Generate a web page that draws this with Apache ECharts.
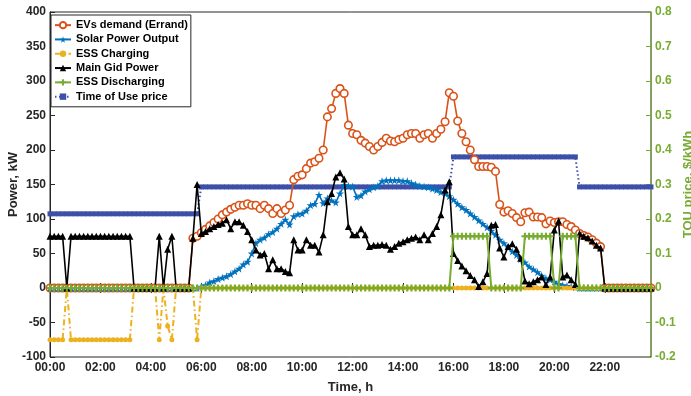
<!DOCTYPE html>
<html>
<head>
<meta charset="utf-8">
<script src="https://cdn.jsdelivr.net/npm/echarts@6/dist/echarts.min.js"></script>
<style>
html, body { margin: 0; padding: 0; background: #fff; }
#chart { width: 691px; height: 396px; }
</style>
</head>
<body>
<div id="chart"></div>
<script>
// 10-minute steps over one day
const times = [];
for (let i = 0; i < 144; i++) {
    const h = Math.floor(i / 6), m = (i % 6) * 10;
    times.push(String(h).padStart(2, '0') + ':' + String(m).padStart(2, '0'));
}

const evDemand = [
    0,0,0,0,0,0,0,0,0,0, 0,0,0,0,0,0,0,0,0,0, 0,0,0,0,0,0,0,0,0,0,
    0,0,0,0,72,75,80,85,90,95,
    100,106,110,114,117,120,120,122,120,120,
    115,120,115,108,115,108,113,120,157,162,
    164,173,181,183,188,200,248,260,282,289,
    282,236,224,222,214,210,205,200,205,211,
    217,213,212,215,217,222,224,224,217,222,
    224,217,224,230,241,283,278,242,224,212,
    200,186,176,176,176,175,169,121,110,112,
    108,102,96,109,110,103,103,102,93,97,
    95,96,96,92,89,84,79,76,74,70,
    65,60,0,0,0,0,0,0,0,0, 0,0,0,0
];

const solar = [
    0,0,0,0,0,0,0,0,0,0, 0,0,0,0,0,0,0,0,0,0, 0,0,0,0,0,0,0,0,0,0,
    0,0,0,0,0,0,2,4,8,10,
    13,15,17,20,24,28,34,38,50,65,
    70,73,78,81,86,93,99,92,104,107,
    108,112,120,122,135,123,130,127,124,137,
    149,148,147,132,134,140,143,146,148,155,
    156,156,156,156,155,155,152,150,148,147,
    146,144,142,139,137,133,128,122,117,113,
    108,103,98,93,88,83,77,70,65,59,
    53,48,42,37,31,27,23,18,14,12,
    9,6,4,3,2,1,0,0,0,0,
    0,0,0,0,0,0,0,0,0,0, 0,0,0,0
];

const essCharging = [
    -75,-75,-75,-75,0,-75,-75,-75,-75,-75,
    -75,-75,-75,-75,-75,-75,-75,-75,-75,-75,
    0,0,0,0,0,0,-75,0,-55,-75,
    0,0,0,0,0,-75,0,0,0,0,
    0,0,0,0,0,0,0,0,0,0, 0,0,0,0,0,0,0,0,0,0,
    0,0,0,0,0,0,0,0,0,0, 0,0,0,0,0,0,0,0,0,0,
    0,0,0,0,0,0,0,0,0,0, 0,0,0,0,0,0,0,0,0,0,
    0,0,0,0,0,0,0,0,0,0, 0,0,0,0,0,0,0,0,0,0,
    0,0,0,0,0,0,0,0,0,0, 0,0,0,0,0,0,0,0,0,0,
    0,0,0,0
];

const mainGrid = [
    75,75,75,75,0,75,75,75,75,75,
    75,75,75,75,75,75,75,75,75,75,
    0,0,0,0,0,0,75,0,56,75,
    0,0,0,0,72,150,79,82,86,89,
    92,94,99,86,96,96,91,82,70,55,
    48,50,28,41,28,28,24,22,70,55,
    55,70,62,62,52,77,125,137,161,167,
    158,89,77,77,86,77,60,62,62,63,
    62,56,60,65,67,70,72,74,70,77,
    70,79,89,106,142,154,50,40,32,25,
    18,12,2,9,21,91,92,58,45,60,
    64,56,43,10,6,9,12,16,5,16,
    84,97,16,19,12,5,79,75,73,68,
    62,58,0,0,0,0,0,0,0,0, 0,0,0,0
];

const essDischarging = [
    0,0,0,0,0,0,0,0,0,0, 0,0,0,0,0,0,0,0,0,0, 0,0,0,0,0,0,0,0,0,0,
    0,0,0,0,0,0,0,0,0,0, 0,0,0,0,0,0,0,0,0,0, 0,0,0,0,0,0,0,0,0,0,
    0,0,0,0,0,0,0,0,0,0, 0,0,0,0,0,0,0,0,0,0, 0,0,0,0,0,0,0,0,0,0,
    0,0,0,0,0,0,75,75,75,75,
    75,75,75,75,75,0,0,0,0,0,
    0,0,0,75,75,75,75,75,75,75,
    0,0,75,75,75,75,0,0,0,0,
    0,0,0,0,0,0,0,0,0,0, 0,0,0,0
];

const touPrice = [
    0.215,0.215,0.215,0.215,0.215,0.215,0.215,0.215,0.215,0.215,
    0.215,0.215,0.215,0.215,0.215,0.215,0.215,0.215,0.215,0.215,
    0.215,0.215,0.215,0.215,0.215,0.215,0.215,0.215,0.215,0.215,
    0.215,0.215,0.215,0.215,0.215,0.215,0.293,0.293,0.293,0.293,
    0.293,0.293,0.293,0.293,0.293,0.293,0.293,0.293,0.293,0.293,
    0.293,0.293,0.293,0.293,0.293,0.293,0.293,0.293,0.293,0.293,
    0.293,0.293,0.293,0.293,0.293,0.293,0.293,0.293,0.293,0.293,
    0.293,0.293,0.293,0.293,0.293,0.293,0.293,0.293,0.293,0.293,
    0.293,0.293,0.293,0.293,0.293,0.293,0.293,0.293,0.293,0.293,
    0.293,0.293,0.293,0.293,0.293,0.293,0.38,0.38,0.38,0.38,
    0.38,0.38,0.38,0.38,0.38,0.38,0.38,0.38,0.38,0.38,
    0.38,0.38,0.38,0.38,0.38,0.38,0.38,0.38,0.38,0.38,
    0.38,0.38,0.38,0.38,0.38,0.38,0.293,0.293,0.293,0.293,
    0.293,0.293,0.293,0.293,0.293,0.293,0.293,0.293,0.293,0.293,
    0.293,0.293,0.293,0.293
];

const FONT = '"Liberation Sans", Arial, sans-serif';
const AX = '#262626';
const GREEN = '#77AC30';
const STAR = 'path://M50,0L61,35L98,35L68,57L79,91L50,70L21,91L32,57L2,35L39,35Z';
const PLUS = 'path://M3.5,0L6.5,0L6.5,3.5L10,3.5L10,6.5L6.5,6.5L6.5,10L3.5,10L3.5,6.5L0,6.5L0,3.5L3.5,3.5Z';

const chart = echarts.init(document.getElementById('chart'));

const base = {
    type: 'line',
    showAllSymbol: true,
    emphasis: { disabled: true },
    lineStyle: { width: 1.5 }
};

chart.setOption({
    animation: false,
    textStyle: { fontFamily: FONT },
    grid: {
        left: 50, right: 40, top: 12, bottom: 39,
        outerBoundsMode: 'none', containLabel: false,
        show: true, borderColor: AX, borderWidth: 1
    },
    legend: {
        orient: 'vertical',
        left: 51, top: 15,
        itemWidth: 16, itemHeight: 8, itemGap: 0,
        padding: [3, 3, 3, 3],
        backgroundColor: '#fff',
        borderColor: AX, borderWidth: 1,
        textStyle: { fontFamily: FONT, fontWeight: 'bold', fontSize: 11, color: '#000', lineHeight: 14.3 },
        data: ['EVs demand (Errand)', 'Solar Power Output', 'ESS Charging',
               'Main Gid Power', 'ESS Discharging', 'Time of Use price']
    },
    xAxis: [
        {
            type: 'category', data: times, boundaryGap: false,
            name: 'Time, h', nameLocation: 'middle', nameGap: 24, nameMoveOverlap: false,
            nameTextStyle: { fontWeight: 'bold', fontSize: 13, color: AX, fontFamily: FONT },
            axisLine: { lineStyle: { color: AX, width: 1 } },
            axisTick: { inside: true, length: 5, interval: 11, lineStyle: { color: AX } },
            axisLabel: { interval: 11, color: AX, fontWeight: 'bold', fontSize: 12, margin: 5, fontFamily: FONT },
            splitLine: { show: false }
        },
        {
            type: 'category', data: times, boundaryGap: false, position: 'top',
            axisLine: { lineStyle: { color: AX, width: 1 } },
            axisTick: { inside: true, length: 5, interval: 11, lineStyle: { color: AX } },
            axisLabel: { show: false },
            splitLine: { show: false }
        }
    ],
    yAxis: [
        {
            type: 'value', min: -100, max: 400, interval: 50,
            name: 'Power, kW', nameLocation: 'middle', nameGap: 30, nameRotate: 90, nameMoveOverlap: false,
            nameTextStyle: { fontWeight: 'bold', fontSize: 13, color: AX, fontFamily: FONT },
            axisLine: { show: true, lineStyle: { color: AX, width: 1 } },
            axisTick: { show: true, inside: true, length: 5, lineStyle: { color: AX } },
            axisLabel: { color: AX, fontWeight: 'bold', fontSize: 12, margin: 4, fontFamily: FONT },
            splitLine: { show: false }
        },
        {
            type: 'value', min: -0.2, max: 0.8, interval: 0.1, position: 'right',
            name: 'TOU price, $/kWh', nameLocation: 'middle', nameGap: 31, nameRotate: 90, nameMoveOverlap: false,
            nameTextStyle: { fontWeight: 'bold', fontSize: 13, color: GREEN, fontFamily: FONT },
            axisLine: { show: true, lineStyle: { color: GREEN, width: 1 } },
            axisTick: { show: true, inside: true, length: 5, lineStyle: { color: GREEN } },
            axisLabel: { color: GREEN, fontWeight: 'bold', fontSize: 12, margin: 4, fontFamily: FONT },
            splitLine: { show: false }
        }
    ],
    series: [
        Object.assign({}, base, {
            name: 'Time of Use price', data: touPrice, yAxisIndex: 1, z: 2,
            symbol: 'rect', symbolSize: 5,
            itemStyle: { color: '#3C50AA' },
            lineStyle: { width: 2, color: '#3C50AA', type: [1.5, 2.5] }
        }),
        Object.assign({}, base, {
            name: 'EVs demand (Errand)', data: evDemand, z: 3,
            symbol: 'circle', symbolSize: 7.5,
            itemStyle: { color: '#fff', borderColor: '#D95319', borderWidth: 1.6 },
            lineStyle: { width: 1.6, color: '#D95319' }
        }),
        Object.assign({}, base, {
            name: 'Solar Power Output', data: solar, z: 4,
            symbol: STAR, symbolSize: 8,
            itemStyle: { color: '#0072BD' },
            lineStyle: { width: 1.6, color: '#0072BD' }
        }),
        Object.assign({}, base, {
            name: 'ESS Charging', data: essCharging, z: 5,
            symbol: 'circle', symbolSize: 5,
            itemStyle: { color: '#EDB120' },
            lineStyle: { width: 2, color: '#EDB120', type: [6, 3, 1.5, 3] }
        }),
        Object.assign({}, base, {
            name: 'Main Gid Power', data: mainGrid, z: 6,
            symbol: 'triangle', symbolSize: 7,
            itemStyle: { color: '#000' },
            lineStyle: { width: 1.6, color: '#000' }
        }),
        Object.assign({}, base, {
            name: 'ESS Discharging', data: essDischarging, z: 7,
            symbol: PLUS, symbolSize: 7,
            itemStyle: { color: GREEN },
            lineStyle: { width: 2, color: GREEN }
        })
    ]
});
</script>
</body>
</html>
